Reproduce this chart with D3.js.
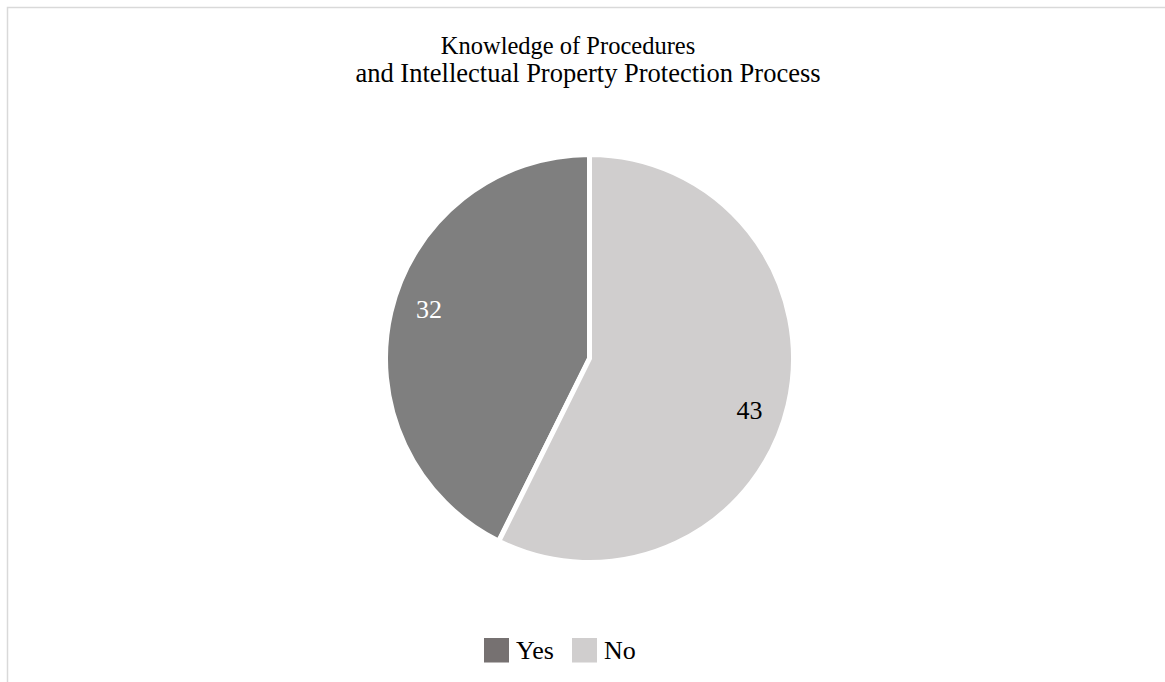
<!DOCTYPE html>
<html>
<head>
<meta charset="utf-8">
<script src="https://cdn.jsdelivr.net/npm/d3@7/dist/d3.min.js"></script>
<style>
  html, body { margin: 0; padding: 0; background: #ffffff; }
  svg { display: block; }
  text { font-family: "Liberation Serif", "Times New Roman", Times, serif; }
</style>
</head>
<body>
<svg id="chart" width="1165" height="682"></svg>
<script>
const titleLines = ["Knowledge of Procedures", "and Intellectual Property Protection Process"];
const categories = ["Yes", "No"];
const values = [32, 43];
const sliceColors = ["#7f7f7f", "#d0cece"];
const legendColors = ["#767171", "#d0cece"];
const labelColors = ["#ffffff", "#000000"];

const W = 1165, H = 682;
const svg = d3.select("#chart");

// chart area border (extends beyond the viewport on right/bottom)
svg.append("rect")
  .attr("x", 7.5).attr("y", 7.5)
  .attr("width", W + 20).attr("height", H + 20)
  .attr("fill", "none")
  .attr("stroke", "#d9d9d9")
  .attr("stroke-width", 1.5);

// title
const titleX = [568, 588];
const titleSize = [24.5, 26.5];
const title = svg.append("g").attr("fill", "#000");
titleLines.forEach((t, i) => {
  title.append("text")
    .attr("text-anchor", "middle")
    .attr("x", titleX[i]).attr("y", 54 + i * 28)
    .attr("font-size", titleSize[i])
    .text(t);
});

const data = categories.map((c, i) => ({ category: c, value: values[i], i }));
const total = d3.sum(values);

// "No" starts at 12 o'clock and runs clockwise; "Yes" fills the rest
const offset = -(values[0] / total) * 2 * Math.PI;
const pie = d3.pie().sort(null).value(d => d.value)
  .startAngle(offset).endAngle(offset + 2 * Math.PI);

const cx = 589.5, cy = 358.5, R = 204;
const arc = d3.arc().innerRadius(0).outerRadius(R);

const g = svg.append("g").attr("transform", `translate(${cx},${cy})`);
const arcs = pie(data);

g.selectAll("path.slice")
  .data(arcs)
  .join("path")
  .attr("class", "slice")
  .attr("d", arc)
  .attr("fill", d => sliceColors[d.data.i])
  .attr("stroke", "#ffffff")
  .attr("stroke-width", 5)
  .attr("stroke-linejoin", "miter");

g.selectAll("text.lbl")
  .data(arcs)
  .join("text")
  .attr("class", "lbl")
  .attr("transform", d => {
    const a = (d.startAngle + d.endAngle) / 2 + (d.data.i === 0 ? 0.07 : 0.08);
    return `translate(${168 * Math.sin(a)},${-168 * Math.cos(a)})`;
  })
  .attr("text-anchor", "middle")
  .attr("dy", "0.35em")
  .attr("font-size", 26)
  .attr("fill", d => labelColors[d.data.i])
  .text(d => d.data.value);

// legend
const legend = svg.append("g");
const legendX = [484, 572];
const items = legend.selectAll("g.item")
  .data(data)
  .join("g")
  .attr("class", "item")
  .attr("transform", d => `translate(${legendX[d.i]},638)`);
items.append("rect")
  .attr("width", 25).attr("height", 24.5)
  .attr("fill", d => legendColors[d.i]);
items.append("text")
  .attr("x", 32).attr("y", 20.5)
  .attr("font-size", 26)
  .attr("fill", "#000")
  .text(d => d.category);
</script>
</body>
</html>
